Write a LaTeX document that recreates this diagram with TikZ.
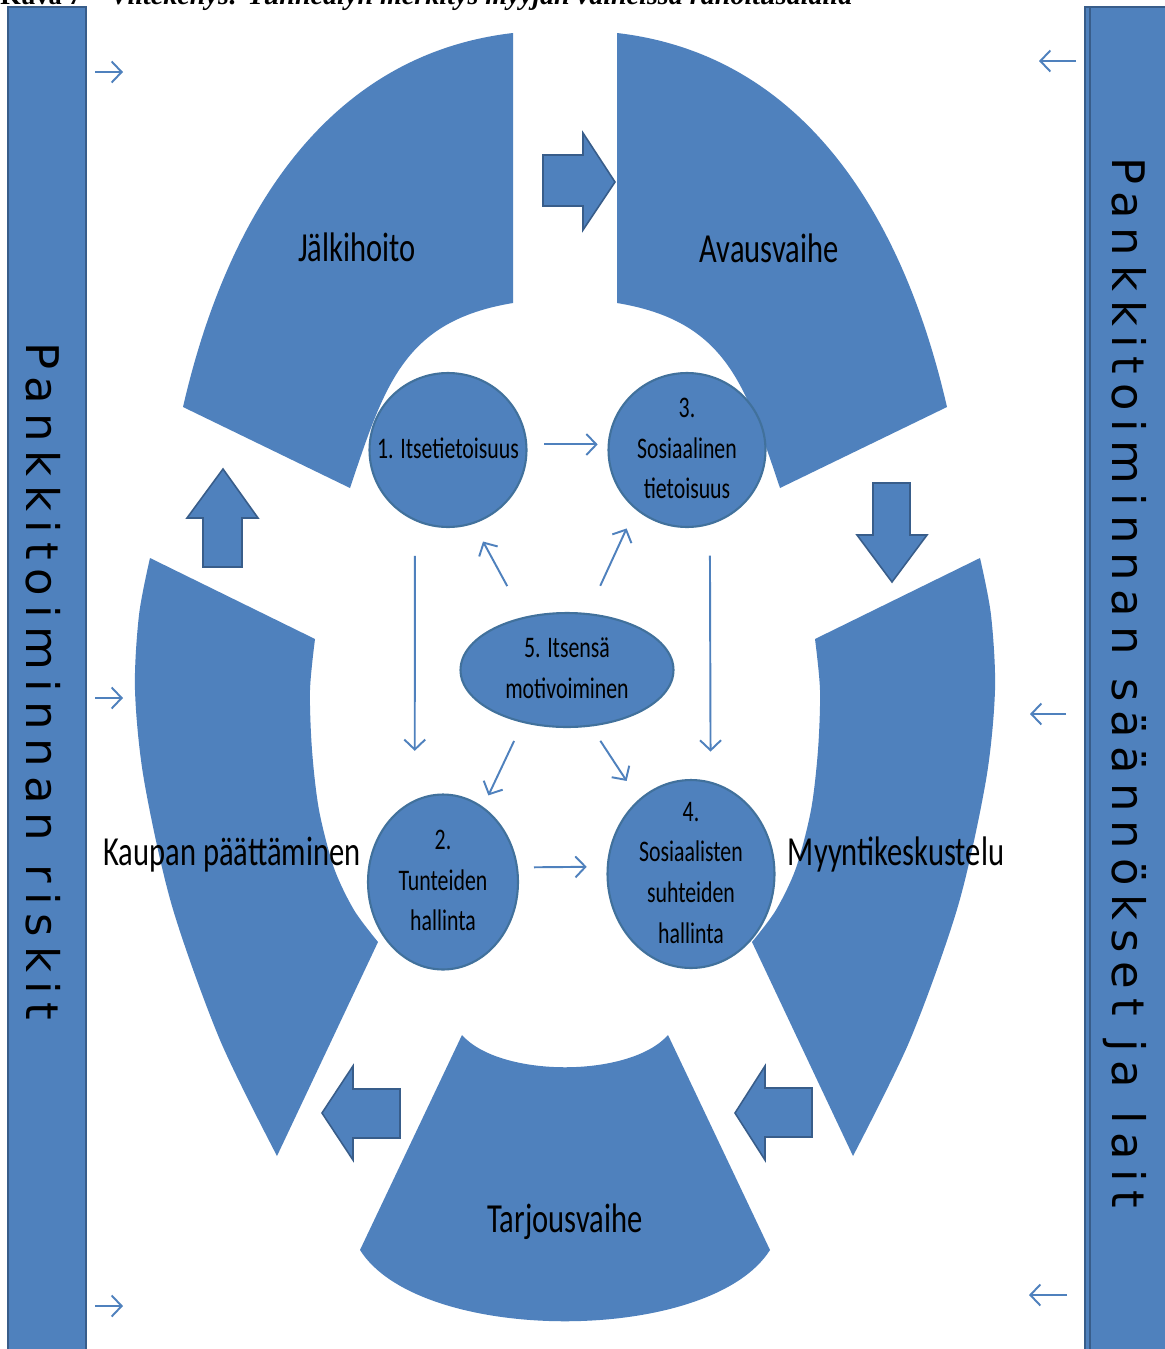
\documentclass[tikz,border=0pt]{standalone}
\usepackage{fontspec}
\usepackage{graphicx}
\setmainfont{Liberation Serif}
\newfontfamily\barfont[LetterSpace=20]{DejaVu Sans}
\newfontfamily\calfont{Carlito}
\usetikzlibrary{arrows.meta,shapes.geometric}
\definecolor{segblue}{HTML}{4F81BD}
\definecolor{edgeblue}{HTML}{385D8A}
\definecolor{circedge}{HTML}{41719C}
\newcommand\segtext[1]{\scalebox{0.74}[1]{\calfont\fontsize{23.5pt}{28pt}\selectfont #1}}
\newcommand\circtext[1]{\scalebox{0.73}[1]{\calfont\fontsize{17pt}{23.2pt}\selectfont\begin{tabular}{@{}c@{}}#1\end{tabular}}}
\begin{document}
\begin{tikzpicture}[x=0.02cm, y=-0.02cm,
  seg/.style={fill=segblue},
  blockarrow/.style={fill=segblue, draw=edgeblue, line width=0.9pt, line join=miter},
  circ/.style={ellipse, fill=segblue, draw=circedge, line width=1.2pt, inner sep=0pt},
  thinarrow/.style={draw=segblue, line width=1.1pt, -{Straight Barb[length=0.2cm, width=0.42cm]}},
  barbox/.style={rectangle, fill=segblue, draw=edgeblue, line width=1.4pt, inner sep=0pt},
  seglabel/.style={inner sep=0pt, anchor=base},
  ctext/.style={inner sep=0pt}]
\useasboundingbox (0,0) rectangle (1165,1349);
\clip (0,0) rectangle (1165,1349);
\fill[white] (0,0) rectangle (1165,1349);

% caption (cut off at the top, as in the source)
\node[anchor=base west, inner sep=0pt] (cap1) at (0,4) {\fontsize{15pt}{18pt}\selectfont\bfseries Kuva 7};
\node[anchor=base west, inner sep=0pt] (cap2) at (110,4) {\resizebox{14.84cm}{!}{\bfseries\itshape Viitekehys: Tunneälyn merkitys myyjän vaiheissa rahoitusalalla}};

% side bars
\node[barbox, minimum width=1.56cm, minimum height=27.06cm] (lbar) at (47,683.5) {};
\node[barbox, minimum width=1.8cm, minimum height=27.06cm] (rbar) at (1130,683.5) {};
\draw[edgeblue, line width=0.8pt] (1090,8) -- (1090,1349);
\node[rotate=-90, anchor=base west, inner sep=0pt] (ltext) at (26,342) {\resizebox{13.56cm}{!}{\barfont Pankkitoiminnan riskit}};
\node[rotate=-90, anchor=base west, inner sep=0pt] (rtext) at (1112,157) {\resizebox{21.02cm}{!}{\barfont Pankkitoiminnan säännökset ja lait}};

% ring segments
\fill[seg] (513,33) -- (513,303) .. controls (404,321) and (385,384) .. (350,488) -- (183,407) .. controls (229,207) and (332,54) .. (513,33) -- cycle;
\fill[seg] (617,33) -- (617,303) .. controls (726,321) and (745,384) .. (780,488) -- (947,407) .. controls (901,207) and (798,54) .. (617,33) -- cycle;
\fill[seg] (150,558) -- (315,639) -- plot[smooth] coordinates {(315,639) (310,690) (312,750) (319,810) (334,868) (354,910) (378,942)} -- (277,1156) -- plot[smooth] coordinates {(277,1156) (220,1040) (172,906) (144,780) (135,690) (139,615) (150,558)} -- cycle;
\fill[seg] (980,558) -- (815,639) -- plot[smooth] coordinates {(815,639) (820,690) (818,750) (811,810) (796,868) (776,910) (752,942)} -- (853,1156) -- plot[smooth] coordinates {(853,1156) (910,1040) (958,906) (986,780) (995,690) (991,615) (980,558)} -- cycle;
\fill[seg] (462,1035) .. controls (500,1078) and (630,1078) .. (668,1035) -- (770,1250) .. controls (710,1345) and (420,1345) .. (360,1250) -- cycle;

% segment labels
\node[seglabel] (lab1) at (357,261) {\segtext{Jälkihoito}};
\node[seglabel] (lab2) at (769,262) {\segtext{Avausvaihe}};
\node[seglabel] (lab3) at (232,865) {\segtext{Kaupan päättäminen}};
\node[seglabel] (lab4) at (896,865) {\segtext{Myyntikeskustelu}};
\node[seglabel] (lab5) at (565,1232) {\segtext{Tarjousvaihe}};

% block arrows
\draw[blockarrow] (543,155) -- (583,155) -- (583,133) -- (615,182) -- (583,230) -- (583,206) -- (543,206) -- cycle;
\draw[blockarrow] (873,483) -- (910,483) -- (910,535) -- (927,535) -- (892,582) -- (857,535) -- (873,535) -- cycle;
\draw[blockarrow] (203,567) -- (242,567) -- (242,518) -- (258,518) -- (223,469) -- (187,518) -- (203,518) -- cycle;
\draw[blockarrow] (400,1089) -- (353,1089) -- (353,1066) -- (322,1113) -- (353,1160) -- (353,1138) -- (400,1138) -- cycle;
\draw[blockarrow] (812,1088) -- (765,1088) -- (765,1066) -- (735,1113) -- (765,1160) -- (765,1137) -- (812,1137) -- cycle;

% circles
\node[circ, minimum width=3.14cm, minimum height=3.08cm] (c1) at (448,450) {};
\node[circ, minimum width=3.14cm, minimum height=3.08cm] (c3) at (687,450) {};
\node[circ, minimum width=4.26cm, minimum height=2.28cm] (c5) at (567,670) {};
\node[circ, minimum width=3.0cm, minimum height=3.5cm] (c2) at (443,882) {};
\node[circ, minimum width=3.34cm, minimum height=3.76cm] (c4) at (691,874) {};
\node[ctext] (t1) at (c1) {\circtext{1. Itsetietoisuus}};
\node[ctext] (t3) at (c3) {\circtext{3.\\Sosiaalinen\\tietoisuus}};
\node[ctext] (t5) at (c5) {\circtext{5. Itsensä\\motivoiminen}};
\node[ctext] (t2) at (c2) {\circtext{2.\\Tunteiden\\hallinta}};
\node[ctext] (t4) at (c4) {\circtext{4.\\Sosiaalisten\\suhteiden\\hallinta}};

% connectors between circles
\draw[thinarrow, shorten <=0.34cm, shorten >=0.2cm] (c1.4) -- (c3.176);
\draw[thinarrow, shorten <=0.32cm, shorten >=0.4cm] (c2.11.5) -- (c4.175);
\draw[thinarrow, shorten <=0.7cm, shorten >=0.98cm] (c1.-115) -- (c2.109);
\draw[thinarrow, shorten <=0.62cm, shorten >=0.6cm] (c3.-73.4) -- (c4.78.9);
\draw[thinarrow, shorten <=0.7cm, shorten >=0.4cm] (c5.129) -- (c1.-71);
\draw[thinarrow, shorten <=0.6cm, shorten >=0.42cm] (c5.70) -- (c3.-131);
\draw[thinarrow, shorten <=0.4cm, shorten >=0.25cm] (c5.-130) -- (c2.62);
\draw[thinarrow, shorten <=0.34cm, shorten >=0.44cm] (c5.-67) -- (c4.125);

% small side arrows
\coordinate (ls1) at (95,72);   \coordinate (le1) at (123,72);
\coordinate (ls2) at (95,698);  \coordinate (le2) at (123,698);
\coordinate (ls3) at (95,1306); \coordinate (le3) at (123,1306);
\coordinate (rs1) at (1076,61);  \coordinate (re1) at (1039,61);
\coordinate (rs2) at (1066,714); \coordinate (re2) at (1030,714);
\coordinate (rs3) at (1067,1295); \coordinate (re3) at (1029,1295);
\draw[thinarrow] (ls1) -- (le1);
\draw[thinarrow] (ls2) -- (le2);
\draw[thinarrow] (ls3) -- (le3);
\draw[thinarrow] (rs1) -- (re1);
\draw[thinarrow] (rs2) -- (re2);
\draw[thinarrow] (rs3) -- (re3);
\end{tikzpicture}
\end{document}
